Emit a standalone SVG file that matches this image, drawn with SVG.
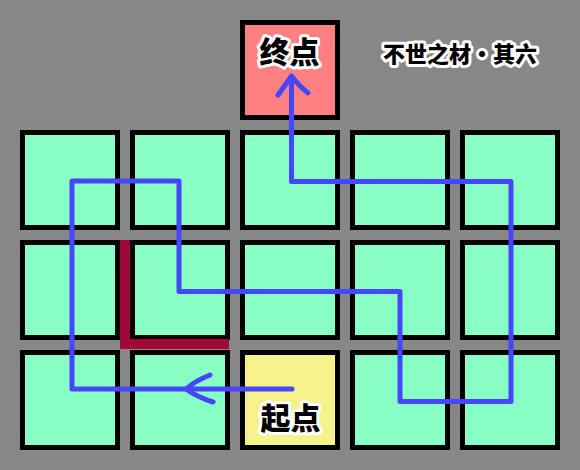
<svg xmlns="http://www.w3.org/2000/svg" width="580" height="470" viewBox="0 0 580 470">
<style>
.cell{fill:#88FFC4;stroke:#000;stroke-width:5}
.lbl{font-family:"Noto Sans CJK SC","Noto Sans CJK JP",sans-serif;font-weight:900;fill:#000;stroke:#fff;stroke-width:6;stroke-linejoin:round;paint-order:stroke;text-anchor:middle}
.route{fill:none;stroke:#4646FA;stroke-width:5;stroke-linejoin:round;stroke-linecap:round}
</style>
<rect x="0" y="0" width="580" height="470" fill="#878787"/>
<g id="cells">
<g id="end"><rect x="242.5" y="22.5" width="95" height="95" class="cell" style="fill:#FF8080"/></g>
<g id="r1c1"><rect x="22.5" y="132.5" width="95" height="95" class="cell"/></g>
<g id="r1c2"><rect x="132.5" y="132.5" width="95" height="95" class="cell"/></g>
<g id="r1c3"><rect x="242.5" y="132.5" width="95" height="95" class="cell"/></g>
<g id="r1c4"><rect x="352.5" y="132.5" width="95" height="95" class="cell"/></g>
<g id="r1c5"><rect x="462.5" y="132.5" width="95" height="95" class="cell"/></g>
<g id="r2c1"><rect x="22.5" y="242.5" width="95" height="95" class="cell"/></g>
<g id="r2c2"><rect x="132.5" y="242.5" width="95" height="95" class="cell"/></g>
<g id="r2c3"><rect x="242.5" y="242.5" width="95" height="95" class="cell"/></g>
<g id="r2c4"><rect x="352.5" y="242.5" width="95" height="95" class="cell"/></g>
<g id="r2c5"><rect x="462.5" y="242.5" width="95" height="95" class="cell"/></g>
<g id="r3c1"><rect x="22.5" y="352.5" width="95" height="95" class="cell"/></g>
<g id="r3c2"><rect x="132.5" y="352.5" width="95" height="95" class="cell"/></g>
<g id="start"><rect x="242.5" y="352.5" width="95" height="95" class="cell" style="fill:#F5F28C"/></g>
<g id="r3c4"><rect x="352.5" y="352.5" width="95" height="95" class="cell"/></g>
<g id="r3c5"><rect x="462.5" y="352.5" width="95" height="95" class="cell"/></g>
</g>
<g id="wall"><path d="M125,240 V344 H229" fill="none" stroke="#A0083C" stroke-width="10" stroke-linejoin="miter"/></g>
<g id="connectors">
<path class="route" d="M292,389 H72 V181 H179 V291.5 H400 V401.5 H511 V181.5 H291.5 V77"/>
<path class="route" d="M278,95 Q286,84 291.5,76 Q298,85 308,93"/>
<path class="route" d="M210,375 Q195,381 186,389 Q197,397 213,402"/>
</g>
<g id="labels">
<text class="lbl" x="289.5" y="63" font-size="30">终点</text>
<text class="lbl" x="290.5" y="429" font-size="30">起点</text>
<text class="lbl" x="460" y="62" font-size="22">不世之材·其六</text>
</g>
</svg>
